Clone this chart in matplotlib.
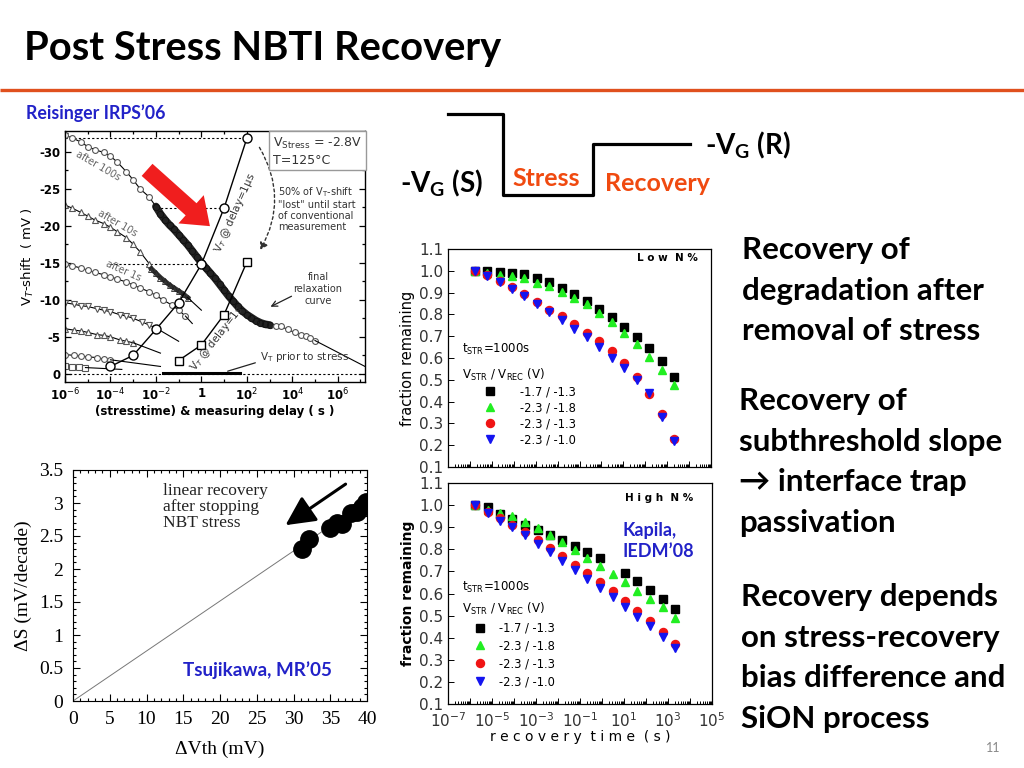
import numpy as np
import matplotlib
matplotlib.use("Agg")
import matplotlib.pyplot as plt
from matplotlib.patches import FancyArrowPatch
from matplotlib.ticker import FixedLocator, NullFormatter, FormatStrFormatter

plt.rcParams['axes.unicode_minus'] = False
plt.rcParams['font.family'] = ['DejaVu Sans']

# ------------------------------------------------------------------ data
# Reisinger IRPS'06 panel (stress time / delay [s], V_T shift [mV])
after100_t = [10**x for x in [-6, -5.7, -5.3, -5, -4.7, -4.3, -4, -3.7, -3.3, -3, -2.7, -2.3, -2]]
after100_v = [-32.2, -31.9, -31.3, -30.7, -30.3, -29.9, -29.4, -28.6, -27.3, -26.2, -25.0, -23.9, -22.6]
relax_t = [10**x for x in [-2, -1.8, -1.6, -1.4, -1.2, -1, -0.8, -0.6, -0.4, -0.2, 0, 0.2, 0.4,
                           0.6, 0.8, 1.0, 1.2, 1.4, 1.6, 1.8, 2.0, 2.2, 2.4, 2.6, 2.8, 3.0]]
relax_v = [-22.6, -21.6, -20.8, -20.1, -19.5, -18.8, -18.1, -17.4, -16.6, -15.8, -15.0, -14.3, -13.6,
           -12.9, -12.1, -11.3, -10.5, -9.8, -9.1, -8.5, -8.0, -7.6, -7.2, -6.9, -6.7, -6.6]
tail_t = [10**x for x in [3.3, 3.5, 3.8, 4.1, 4.4, 4.6, 4.8, 5.0]]
tail_v = [-6.5, -6.4, -6.0, -5.6, -5.3, -5.1, -4.8, -4.5]
tailfit_t = [1e5, 10**7.2]
tailfit_v = [-4.5, -1.0]

after10_t = [10**x for x in [-6, -5.7, -5.3, -5, -4.7, -4.3, -4, -3.7, -3.3, -3, -2.7, -2.3]]
after10_v = [-22.8, -22.4, -21.8, -21.3, -20.8, -20.3, -19.8, -19.2, -18.4, -17.5, -16.5, -14.9]
after10_dense_t = [10**x for x in [-2.2, -2, -1.8, -1.6, -1.4, -1.2, -1, -0.8, -0.6]]
after10_dense_v = [-14.2, -13.6, -13.0, -12.5, -12.0, -11.6, -11.2, -10.8, -10.3]
after10_fit_t = [10**-0.6, 1.0]
after10_fit_v = [-10.3, -8.6]

after1_t = [10**x for x in [-6, -5.7, -5.3, -5, -4.7, -4.3, -4, -3.7, -3.3, -3, -2.7, -2.3, -2, -1.7, -1.3, -1, -0.7]]
after1_v = [-14.8, -14.6, -14.3, -14.0, -13.7, -13.4, -13.1, -12.8, -12.4, -12.0, -11.6, -11.1, -10.6, -10.0, -9.3, -8.6, -7.8]
after1_fit_t = [10**-0.7, 10**-0.4]
after1_fit_v = [-7.8, -6.8]

dn_t = [10**x for x in [-6, -5.6, -5.3, -5, -4.6, -4.3, -4, -3.6, -3.3, -3, -2.6, -2.3, -2]]
dn_v = [-9.6, -9.4, -9.2, -9.1, -8.8, -8.6, -8.4, -8.0, -7.8, -7.5, -7.0, -6.6, -6.2]
dn_fit_t = [1e-2, 10**-1.0]
dn_fit_v = [-6.2, -4.4]

up_t = [10**x for x in [-6, -5.6, -5.3, -5, -4.6, -4.3, -4, -3.6, -3.3, -3]]
up_v = [-6.1, -5.9, -5.8, -5.6, -5.3, -5.2, -5.0, -4.6, -4.4, -4.2]
up_fit_t = [1e-3, 10**-1.8]
up_fit_v = [-4.2, -2.8]

c2_t = [10**x for x in [-6, -5.6, -5.3, -5, -4.6, -4.3, -4]]
c2_v = [-2.6, -2.5, -2.4, -2.3, -2.2, -2.0, -1.9]
c2_fit_t = [1e-4, 10**-1.8]
c2_fit_v = [-1.9, -1.0]

sq_t = [10**x for x in [-6, -5.7, -5.4, -5.1]]
sq_v = [-1.0, -0.95, -0.9, -0.85]
sq_fit_t = [10**-5.1, 10**-3.5]
sq_fit_v = [-0.85, -0.6]

d1us_t = [1e-4, 1e-3, 1e-2, 1e-1, 1, 10, 100]
d1us_v = [-1.0, -2.5, -6.0, -9.6, -14.8, -22.4, -31.8]
d1s_t = [0.1, 1, 10, 100]
d1s_v = [-1.8, -3.9, -8.0, -15.1]
prior_t = [10**-1.7, 10**1.7]
prior_v = [-0.05, -0.05]

# Tsujikawa MR'05 panel
dvth = [31.2, 32.1, 35.0, 35.9, 36.6, 37.8, 38.6, 39.3, 39.8]
dS = [2.30, 2.45, 2.62, 2.70, 2.68, 2.85, 2.87, 2.94, 3.01]
fit_x = [0, 40]
fit_y = [0, 3.03]

# Kapila IEDM'08 panels
t_rec = [10**x for x in [-5.77, -5.2, -4.64, -4.07, -3.51, -2.92, -2.37, -1.80, -1.23,
                         -0.66, -0.09, 0.48, 1.04, 1.61, 2.18, 2.75, 3.32]]
bias_labels = ['-1.7 / -1.3', '-2.3 / -1.8', '-2.3 / -1.3', '-2.3 / -1.0']
low_n = [
    [1.0, 1.0, 0.995, 0.99, 0.985, 0.968, 0.95, 0.92, 0.895, 0.86, 0.826, 0.786, 0.742, 0.695, 0.645, 0.586, 0.515],
    [1.0, 0.99, 0.98, 0.975, 0.966, 0.944, 0.928, 0.904, 0.874, 0.848, 0.808, 0.763, 0.716, 0.664, 0.605, 0.544, 0.478],
    [1.0, 0.98, 0.955, 0.925, 0.895, 0.858, 0.82, 0.792, 0.755, 0.716, 0.678, 0.63, 0.576, 0.514, 0.436, 0.343, 0.228],
    [1.0, 0.975, 0.948, 0.918, 0.886, 0.85, 0.812, 0.775, 0.735, 0.695, 0.65, 0.602, 0.552, 0.5, 0.44, 0.33, 0.22],
]
high_n = [
    [1.0, 0.99, 0.961, 0.937, 0.911, 0.888, 0.866, 0.84, 0.813, 0.787, 0.76, np.nan, 0.695, 0.658, 0.617, 0.577, 0.53],
    [1.0, 0.979, 0.965, 0.949, 0.925, 0.895, 0.865, 0.831, 0.795, 0.76, 0.723, 0.686, 0.65, 0.613, 0.575, 0.537, 0.489],
    [1.0, 0.971, 0.94, 0.91, 0.88, 0.843, 0.805, 0.768, 0.73, 0.693, 0.65, 0.61, 0.567, 0.522, 0.474, 0.424, 0.373],
    [1.0, 0.965, 0.93, 0.9, 0.865, 0.825, 0.79, 0.745, 0.705, 0.665, 0.625, 0.585, 0.54, 0.495, 0.455, 0.405, 0.355],
]
series_colors = ['#000000', '#22EE22', '#F01414', '#1414F0']
series_markers = ['s', '^', 'o', 'v']

bullets = [
    ["Recovery of", "degradation after", "removal of stress"],
    ["Recovery of", "subthreshold slope", "\u2192 interface trap", "passivation"],
    ["Recovery depends", "on stress-recovery", "bias difference and", "SiON process"],
]

# ------------------------------------------------------------------ figure
W, H = 1024, 768
fig = plt.figure(figsize=(W / 100, H / 100), dpi=100)
fig.patch.set_facecolor('white')


def add_px(l, t, r, b, **kw):
    return fig.add_axes([l / W, 1 - b / H, (r - l) / W, (b - t) / H], **kw)


ov = fig.add_axes([0, 0, 1, 1], zorder=10)
ov.set_xlim(0, W)
ov.set_ylim(H, 0)
ov.axis('off')

HEAD = 'Lato'
ov.text(24, 60, 'Post Stress NBTI Recovery', fontsize=28.7, fontweight='bold',
        family=HEAD, va='baseline', ha='left')
ov.plot([0, W], [90, 90], color='#E0501E', lw=2.4, solid_capstyle='butt')
ov.text(26, 113, 'Reisinger IRPS\u201906', fontsize=12.8, fontweight='bold', family=HEAD,
        color='#2222C8', va='center')
ov.text(1000, 748, '11', fontsize=9, color='#888888', ha='right', va='center', family=HEAD)

# ---------------- waveform schematic
ov.plot([448, 503, 503, 593, 593, 690], [114, 114, 195, 195, 144, 144], color='black', lw=2.3)
ov.text(400, 192, '-V$_\\mathregular{G}$ (S)', fontsize=20, fontweight='bold', family=HEAD,
        va='baseline')
ov.text(512, 186, 'Stress', fontsize=18, fontweight='bold', family=HEAD, color='#F04A10',
        va='baseline')
ov.text(605, 191, 'Recovery', fontsize=18, fontweight='bold', family=HEAD, color='#F04A10',
        va='baseline')
ov.text(705, 154, '-V$_\\mathregular{G}$ (R)', fontsize=20, fontweight='bold', family=HEAD,
        va='baseline')

# ---------------- bullet text
block_tops = [259, 410, 606]
block_x = [742, 739, 741]
for lines, y0, x0 in zip(bullets, block_tops, block_x):
    for i, s in enumerate(lines):
        ov.text(x0, y0 + 40.7 * i, s, fontsize=22.5, fontweight='bold', family=HEAD,
                va='baseline', ha='left')

# ------------------------------------------------------------------ Reisinger panel
ax1 = add_px(65, 131, 365, 382)
ax1.set_xscale('log')
gray = '#555555'
mk = dict(mfc='white', mec=gray, mew=0.8, ms=4.2, color='black', lw=0.8)
ax1.plot(after100_t, after100_v, marker='o', **mk)
ax1.plot(relax_t, relax_v, color='#222222', lw=5.5, solid_capstyle='round')
ax1.plot(relax_t, relax_v, 'o', mfc='none', mec='#111111', mew=0.7, ms=4.5)
ax1.plot(tail_t, tail_v, marker='o', **mk)
ax1.plot(tailfit_t, tailfit_v, color='black', lw=0.8)
ax1.plot(after10_t, after10_v, marker='^', **mk)
ax1.plot(after10_dense_t, after10_dense_v, color='#333333', lw=3.5)
ax1.plot(after10_dense_t, after10_dense_v, '^', mfc='none', mec='#222222', mew=0.6, ms=4)
ax1.plot(after10_fit_t, after10_fit_v, color='black', lw=0.8)
ax1.plot(after1_t, after1_v, marker='o', **mk)
ax1.plot(after1_fit_t, after1_fit_v, color='black', lw=0.8)
ax1.plot(dn_t, dn_v, marker='v', **mk)
ax1.plot(dn_fit_t, dn_fit_v, color='black', lw=0.8)
ax1.plot(up_t, up_v, marker='^', **mk)
ax1.plot(up_fit_t, up_fit_v, color='black', lw=0.8)
ax1.plot(c2_t, c2_v, marker='o', **mk)
ax1.plot(c2_fit_t, c2_fit_v, color='black', lw=0.8)
ax1.plot(sq_t, sq_v, marker='s', **mk)
ax1.plot(sq_fit_t, sq_fit_v, color='black', lw=0.8)

# dotted guides
ax1.plot([1e-6, d1us_t[-1]], [d1us_v[-1]] * 2, ls=(0, (2, 2)), color='black', lw=0.8, zorder=1)
ax1.plot([1e-2, d1us_t[-2]], [d1us_v[-2]] * 2, ls=(0, (2, 2)), color='black', lw=0.8, zorder=1)
ax1.plot([1e-4, d1us_t[-3]], [d1us_v[-3]] * 2, ls=(0, (2, 2)), color='black', lw=0.8, zorder=1)
ax1.axhline(0, ls=(0, (2, 2)), color='black', lw=0.8, zorder=1)

ax1.plot(d1us_t, d1us_v, color='black', lw=1.0)
ax1.plot(d1us_t, d1us_v, 'o', mfc='white', mec='black', mew=1.0, ms=6.5)
ax1.plot(d1s_t, d1s_v, color='black', lw=1.0)
ax1.plot(d1s_t, d1s_v, 's', mfc='white', mec='black', mew=1.0, ms=6)
ax1.plot(prior_t, prior_v, color='black', lw=2.2)

ax1.set_xlim(1e-6, 10**7.2)
ax1.set_ylim(1.1, -32.8)
ax1.set_xticks([1e-6, 1e-4, 1e-2, 1, 1e2, 1e4, 1e6])
ax1.set_xticklabels(['10$^{-6}$', '10$^{-4}$', '10$^{-2}$', '1', '10$^{2}$', '10$^{4}$', '10$^{6}$'])
ax1.xaxis.set_minor_locator(FixedLocator([10.0 ** k for k in range(-6, 8)]))
ax1.xaxis.set_minor_formatter(NullFormatter())
ax1.set_yticks([0, -5, -10, -15, -20, -25, -30])
ax1.yaxis.set_minor_locator(FixedLocator(list(np.arange(0, -33, -2.5))))
ax1.tick_params(which='both', direction='in', top=True, right=True, labelsize=8.5, width=0.9)
ax1.tick_params(which='major', length=4)
ax1.tick_params(which='minor', length=2)
for lb in ax1.get_xticklabels() + ax1.get_yticklabels():
    lb.set_fontweight('bold')
for sp in ax1.spines.values():
    sp.set_linewidth(1.0)
ax1.set_xlabel('(stresstime) & measuring delay ( s )', fontsize=8.5, fontweight='bold', labelpad=1)
ax1.set_ylabel('V$_T$-shift  ( mV )', fontsize=9.5, labelpad=2)

tc = '#333333'
ax1.text(10**-4.55, -28.1, 'after 100s', rotation=-30, fontsize=7, color='#666666',
         ha='center', va='center')
ax1.text(10**-3.71, -20.3, 'after 10s', rotation=-30, fontsize=7, color='#666666',
         ha='center', va='center')
ax1.text(10**-3.45, -13.9, 'after 1s', rotation=-24, fontsize=7, color='#666666',
         ha='center', va='center')
ax1.text(10**1.5, -21.8, 'V$_T$ @ delay=1\u00b5s', rotation=66, fontsize=7.5, color=tc,
         ha='center', va='center')
ax1.text(10**0.68, -4.8, 'V$_T$ @ delay=1s', rotation=52, fontsize=7.5, color=tc,
         ha='center', va='center')

# annotations in pixel space
ov.text(362, 151, 'V$_{\\mathregular{Stress}}$ = -2.8V\nT=125\u00b0C', fontsize=9, color='#333333',
        va='center', ha='right', multialignment='left', linespacing=1.3,
        bbox=dict(boxstyle='square,pad=0.3', fc='white', ec='#999999', lw=1.0))
ov.text(278, 185, '50% of V$_\\mathregular{T}$-shift\n"lost" until start\nof conventional\nmeasurement',
        fontsize=7, color='#333333', va='top', ha='left', linespacing=1.15)
ov.add_patch(FancyArrowPatch((258, 145), (259, 252), connectionstyle='arc3,rad=-0.3',
                             arrowstyle='-|>,head_length=4,head_width=2.5', ls=(0, (2, 2)),
                             lw=1.0, color='#333333'))
ov.text(318, 289, 'final\nrelaxation\ncurve', fontsize=7, color='#333333', ha='center',
        va='center', linespacing=1.2)
ov.annotate('', xy=(268, 308), xytext=(294, 295),
            arrowprops=dict(arrowstyle='->', lw=0.9, color='#222222'))
ov.text(260, 357, 'V$_\\mathregular{T}$ prior to stress', fontsize=7.5, color='#333333',
        ha='left', va='center')
ov.annotate('', xy=(225, 372), xytext=(258, 362),
            arrowprops=dict(arrowstyle='-', lw=0.9, color='#222222'))
ov.add_patch(FancyArrowPatch((145, 168), (212, 228),
                             arrowstyle='simple,head_length=1.4,head_width=2.1,tail_width=0.9',
                             mutation_scale=13, color='#F01E1E', lw=0))

# ------------------------------------------------------------------ Tsujikawa panel
serif = 'Liberation Serif'
ax2 = add_px(73, 470, 367, 701)
ax2.plot(fit_x, fit_y, color='#777777', lw=0.7)
ax2.plot(dvth, dS, 'o', color='black', ms=12.5)
ax2.set_xlim(0, 40)
ax2.set_ylim(0, 3.5)
ax2.set_xticks(range(0, 41, 5))
ax2.set_yticks([0, 0.5, 1, 1.5, 2, 2.5, 3, 3.5])
ax2.set_yticklabels(['0', '0.5', '1', '1.5', '2', '2.5', '3', '3.5'])
ax2.xaxis.set_minor_locator(FixedLocator(list(range(0, 41))))
ax2.yaxis.set_minor_locator(FixedLocator(list(np.arange(0, 3.51, 0.1))))
ax2.tick_params(which='both', direction='in', top=True, right=True, labelsize=14, width=0.8)
ax2.tick_params(axis='x', pad=7)
ax2.tick_params(axis='y', pad=7)
ax2.tick_params(which='major', length=5)
ax2.tick_params(which='minor', length=2.5)
for lb in ax2.get_xticklabels() + ax2.get_yticklabels():
    lb.set_family(serif)
ax2.set_xlabel('\u0394Vth (mV)', fontsize=14, family=serif, labelpad=9)
ax2.set_ylabel('\u0394S (mV/decade)', fontsize=14, family=serif, labelpad=5)
ax2.text(12.2, 3.3, 'linear recovery\nafter stopping\nNBT stress', fontsize=12.5, family=serif,
         va='top', ha='left', linespacing=1.0, color='#222222')
ax2.annotate('', xy=(28.6, 2.64), xytext=(37.4, 3.31),
             arrowprops=dict(arrowstyle='-|>,head_length=0.9,head_width=0.45', lw=2.2,
                             color='black', mutation_scale=20))
ov.text(183, 670, 'Tsujikawa, MR\u201905', fontsize=13.6, fontweight='bold', family=HEAD,
        color='#2222C8', va='center')

# ------------------------------------------------------------------ Kapila panels


def kapila(ax, data, title, title_xy, leg_anchor, show_x, hl, htp, ls, tls):
    for vals, c, m, lab in zip(data, series_colors, series_markers, bias_labels):
        ax.plot(t_rec, vals, ls='none', marker=m, color=c, ms=5.8 if m != 's' else 5.2, label=lab)
    ax.set_xscale('log')
    ax.set_xlim(1e-7, 1e5)
    ax.set_ylim(0.1, 1.1)
    ax.set_yticks(np.round(np.arange(0.1, 1.11, 0.1), 1))
    ax.yaxis.set_major_formatter(FormatStrFormatter('%.1f'))
    ax.set_xticks([10.0 ** k for k in range(-7, 6)])
    ax.set_xticklabels(['10$^{%d}$' % k if k % 2 else '' for k in range(-7, 6)] if show_x else [])
    ax.xaxis.set_minor_locator(FixedLocator([m * 10.0 ** k for k in range(-7, 5) for m in range(2, 10)]))
    ax.xaxis.set_minor_formatter(NullFormatter())
    ax.tick_params(which='both', direction='in', labelsize=11, labelcolor='#333333', width=0.7)
    ax.tick_params(axis='x', pad=5)
    ax.tick_params(which='major', length=4)
    ax.tick_params(which='minor', length=2)
    for sp in ax.spines.values():
        sp.set_linewidth(0.9)
    ax.text(title_xy[0], title_xy[1], title, transform=ax.transAxes, fontsize=7.5,
            fontweight='bold', ha='left', va='center')
    leg = ax.legend(loc='upper left', bbox_to_anchor=leg_anchor, frameon=False, fontsize=8.3,
                    title='t$_\\mathregular{STR}$=1000s\nV$_\\mathregular{STR}$ / V$_\\mathregular{REC}$ (V)',
                    title_fontsize=8.5, alignment='left', handlelength=hl, handletextpad=htp,
                    labelspacing=ls, borderaxespad=0, markerscale=1.0, borderpad=0)
    leg.get_title().set_linespacing(tls)


ax3 = add_px(448, 249, 711, 467)
kapila(ax3, low_n, 'L o w  N %', (0.72, 0.96), (0.053, 0.572), False, 4.8, 0.2, 0.25, 1.75)
ax3.set_ylabel('fraction remaining', fontsize=10.5, labelpad=3)

ax4 = add_px(448, 483, 712, 704)
kapila(ax4, high_n, 'H i g h  N %', (0.67, 0.93), (0.053, 0.56), True, 3.1, 0.1, 0.42, 1.45)
ax4.set_ylabel('fraction remaining', fontsize=10, fontweight='bold', labelpad=3)
ax4.set_xlabel('r e c o v e r y  t i m e  ( s )', fontsize=10, labelpad=0)
ov.text(622, 541, 'Kapila,\nIEDM\u201908', fontsize=13, fontweight='bold', family=HEAD,
        color='#2222C8', va='center', linespacing=1.3)

fig.savefig('out.png', dpi=100, facecolor='white')
